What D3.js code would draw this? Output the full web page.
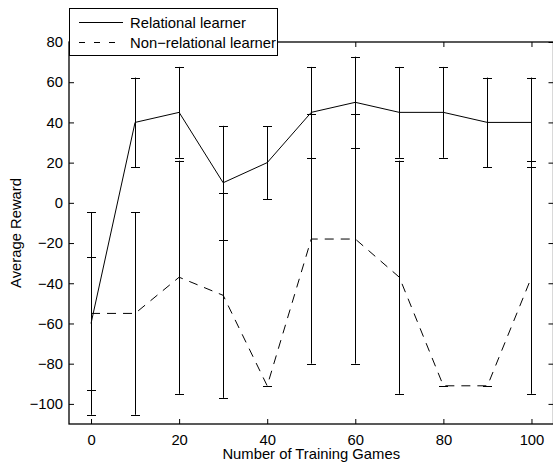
<!DOCTYPE html>
<html>
<head>
<meta charset="utf-8">
<script src="https://cdn.jsdelivr.net/npm/d3@7"></script>
<style>
  body { margin: 0; background: #fff; }
  text { font-family: "Liberation Sans", Arial, sans-serif; fill: #000; }
</style>
</head>
<body>
<div id="chart"></div>
<script>
// values
var games = [0, 10, 20, 30, 40, 50, 60, 70, 80, 90, 100];
var relMean = [-60, 40, 45, 10, 20, 45, 50, 45, 45, 40, 40];
var relErr = [33, 22.3, 22.6, 28.3, 18.2, 22.6, 22.7, 22.6, 22.6, 22.3, 22.3];
var nonMean = [-55, -55, -37, -46, -91, -18, -18, -37, -91, -91, -37];
var nonErr = [50.4, 50.4, 58, 51, 0, 62, 62, 58, 0, 0, 58];
var xTicks = [0, 20, 40, 60, 80, 100];
var yTicks = [-100, -80, -60, -40, -20, 0, 20, 40, 60, 80];
var seriesNames = ["Relational learner", "Non\u2212relational learner"];

var W = 553, H = 464;
var padL = 69, padR = 553.5, padT = 42, padB = 424;
var fs = "14.8px";

var svg = d3.select("#chart").append("svg")
    .attr("width", W).attr("height", H);

var x = d3.scaleLinear().domain([-5, 105]).range([padL, padR]);
var y = d3.scaleLinear().domain([-110, 80]).range([padB, padT]);

var fmt = function(d) { return d3.format("d")(d); };

// axes, matlab style: inward ticks on all four sides
svg.append("g").attr("transform", "translate(0," + padB + ")")
    .call(d3.axisBottom(x).tickValues(xTicks).tickSize(-5).tickPadding(10).tickFormat(fmt))
    .call(g => g.select(".domain").remove());
svg.append("g").attr("transform", "translate(0," + padT + ")")
    .call(d3.axisTop(x).tickValues(xTicks).tickSize(-5).tickFormat(""))
    .call(g => g.select(".domain").remove());
svg.append("g").attr("transform", "translate(" + padL + ",0)")
    .call(d3.axisLeft(y).tickValues(yTicks).tickSize(-5).tickPadding(6).tickFormat(fmt))
    .call(g => g.select(".domain").remove());
svg.append("g").attr("transform", "translate(" + padR + ",0)")
    .call(d3.axisRight(y).tickValues(yTicks).tickSize(-5).tickFormat(""))
    .call(g => g.select(".domain").remove());

svg.selectAll(".tick text").style("font-size", fs).style("font-family", "Liberation Sans, Arial, sans-serif");
svg.selectAll(".tick line").attr("stroke", "#000");

svg.append("rect")
    .attr("x", padL).attr("y", padT)
    .attr("width", padR - padL).attr("height", padB - padT)
    .attr("fill", "none").attr("stroke", "#000").attr("stroke-width", 1.3);

// axis titles
svg.append("text")
    .attr("x", (padL + padR) / 2).attr("y", 459)
    .attr("text-anchor", "middle").style("font-size", fs)
    .text("Number of Training Games");
svg.append("text")
    .attr("transform", "translate(21," + ((padT + padB) / 2) + ") rotate(-90)")
    .attr("text-anchor", "middle").style("font-size", fs)
    .text("Average Reward");

var line = d3.line().x(d => x(d[0])).y(d => y(d[1]));

function drawSeries(means, errs, dash) {
  var pts = games.map((g, i) => [g, means[i]]);
  svg.append("path")
      .datum(pts)
      .attr("d", line)
      .attr("fill", "none").attr("stroke", "#000").attr("stroke-width", 1)
      .attr("stroke-dasharray", dash);

  var bars = svg.append("g");
  games.forEach(function(g, i) {
    var lo = means[i] - errs[i], hi = means[i] + errs[i];
    var cx = Math.round(x(g)) + 0.5;
    bars.append("line")
        .attr("x1", cx).attr("x2", cx)
        .attr("y1", y(lo)).attr("y2", y(hi))
        .attr("stroke", "#000");
    [lo, hi].forEach(function(v) {
      bars.append("line")
          .attr("x1", cx - 4.5).attr("x2", cx + 4.5)
          .attr("y1", Math.round(y(v)) + 0.5).attr("y2", Math.round(y(v)) + 0.5)
          .attr("stroke", "#000");
    });
  });
}

drawSeries(relMean, relErr, null);
drawSeries(nonMean, nonErr, "9,7");

// legend
var lg = svg.append("g");
lg.append("rect")
    .attr("x", 69.5).attr("y", 8.5).attr("width", 208).attr("height", 47)
    .attr("fill", "#fff").attr("stroke", "#000");
seriesNames.forEach(function(name, i) {
  var ly = 22.5 + i * 20;
  lg.append("line")
      .attr("x1", 79).attr("x2", 123).attr("y1", ly).attr("y2", ly)
      .attr("stroke", "#000")
      .attr("stroke-dasharray", i === 1 ? "6,9" : null);
  lg.append("text")
      .attr("x", 130).attr("y", ly + 5)
      .style("font-size", fs)
      .text(name);
});
</script>
</body>
</html>
